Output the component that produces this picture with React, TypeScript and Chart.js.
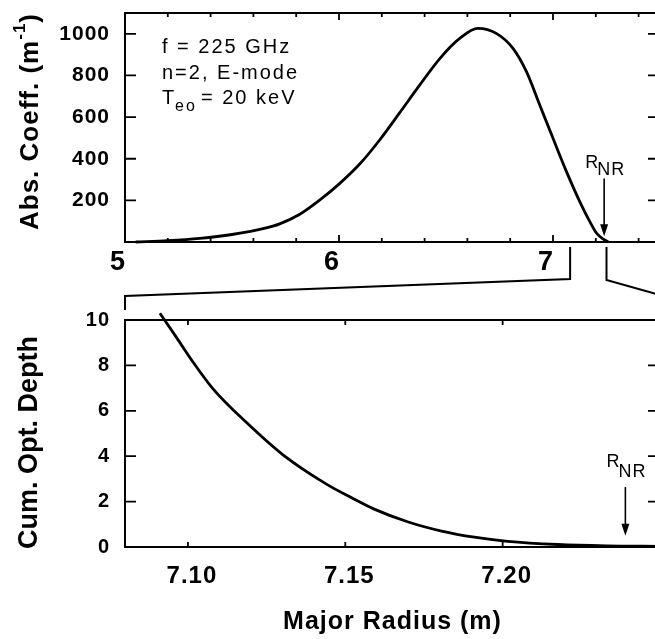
import React, { useEffect, useRef } from 'react';
import { Chart, registerables } from 'chart.js';

Chart.register(...registerables);

// ---------------- data ----------------
// Upper panel: absorption coefficient vs major radius
const ABS_RADIUS = [5.05, 5.2, 5.35, 5.5, 5.66, 5.72, 5.815, 5.908, 6.0, 6.1, 6.19, 6.283, 6.376, 6.47, 6.564, 6.649, 6.735, 6.813, 6.876, 6.938, 7.0, 7.063, 7.125, 7.172, 7.204, 7.235, 7.258];
const ABS_COEFF = [0, 6, 17, 36, 68, 86, 132, 200, 278, 378, 490, 620, 752, 880, 978, 1026, 1002, 930, 818, 658, 498, 338, 194, 98, 42, 14, 0];

// Lower panel: cumulative optical depth vs major radius (zoom)
const TAU_RADIUS = [7.0911, 7.0965, 7.1016, 7.1079, 7.1187, 7.1302, 7.144, 7.152, 7.159, 7.17, 7.1806, 7.191, 7.2016, 7.2175, 7.233, 7.25];
const TAU_DEPTH = [10.3, 9.2, 8.15, 6.98, 5.47, 4.06, 2.77, 2.17, 1.68, 1.1, 0.7, 0.43, 0.25, 0.11, 0.05, 0.03];

// axes
const TOP_X_RANGE = [5, 7.5];
const TOP_Y_RANGE = [0, 1100];
const TOP_X_TICKS = [5.0, 5.2, 5.4, 5.6, 5.8, 6.0, 6.2, 6.4, 6.6, 6.8, 7.0, 7.2, 7.4];
const TOP_X_LABELED = [5, 6, 7];
const TOP_Y_TICKS = [200, 400, 600, 800, 1000];

const LOW_X_RANGE = [7.08, 7.25];
const LOW_Y_RANGE = [0, 10];
const LOW_X_TICKS = [7.1, 7.15, 7.2];
const LOW_Y_TICKS = [0, 2, 4, 6, 8, 10];

const R_NR = 7.239;
const TOP_ARROW = [305, 28]; // from, tip (abs. coeff units)
const TOP_RNR_LABEL = [355, 322]; // baseline of "R", baseline of "NR"
const LOW_ARROW = [2.64, 0.5];
const LOW_RNR_LABEL = [3.52, 3.08];

const ANNOTATION_LINES = ['f = 225 GHz', 'n=2, E-mode'];
const TEMP_PARTS = ['T', 'eo', '= 20 keV'];

const TOP_Y_TITLE = ['Abs. Coeff. (m', '-1', ')'];
const LOW_Y_TITLE = 'Cum. Opt. Depth';
const X_TITLE = 'Major Radius (m)';

// ---------------- helpers ----------------
const FAMILY = '"Liberation Sans", Arial, sans-serif';
const fontStr = (size: number, bold = false) => `${bold ? 'bold ' : ''}${size}px ${FAMILY}`;

function isInt(v: number) {
  return Math.abs(v - Math.round(v)) < 1e-6;
}

function drawFrame(chart: any, xTicks: number[], yTicks: number[], isMajor: (v: number) => boolean, lens: { major: number; minor: number; left: number; right: number }) {
  const { ctx, chartArea: a, scales } = chart;
  const x = scales.x;
  const y = scales.y;
  ctx.save();
  ctx.strokeStyle = '#000';
  ctx.lineWidth = 2;
  ctx.strokeRect(a.left, a.top, a.right - a.left, a.bottom - a.top);
  ctx.lineWidth = 1.8;
  ctx.beginPath();
  for (const v of xTicks) {
    const px = x.getPixelForValue(v);
    const len = isMajor(v) ? lens.major : lens.minor;
    ctx.moveTo(px, a.bottom);
    ctx.lineTo(px, a.bottom - len);
    ctx.moveTo(px, a.top);
    ctx.lineTo(px, a.top + len);
  }
  for (const v of yTicks) {
    const py = y.getPixelForValue(v);
    ctx.moveTo(a.left, py);
    ctx.lineTo(a.left + lens.left, py);
    ctx.moveTo(a.right, py);
    ctx.lineTo(a.right - lens.right, py);
  }
  ctx.stroke();
  ctx.restore();
}

function drawArrowAndLabel(chart: any, xv: number, arrow: number[], label: number[]) {
  const { ctx, scales } = chart;
  const px = scales.x.getPixelForValue(xv);
  const y0 = scales.y.getPixelForValue(arrow[0]);
  const y1 = scales.y.getPixelForValue(arrow[1]);
  ctx.save();
  ctx.strokeStyle = '#000';
  ctx.fillStyle = '#000';
  ctx.lineWidth = 1.6;
  ctx.beginPath();
  ctx.moveTo(px, y0);
  ctx.lineTo(px, y1 - 8);
  ctx.stroke();
  ctx.beginPath();
  ctx.moveTo(px - 4, y1 - 12);
  ctx.lineTo(px + 4, y1 - 12);
  ctx.lineTo(px, y1);
  ctx.closePath();
  ctx.fill();
  (ctx as any).letterSpacing = '1px';
  ctx.font = fontStr(18);
  ctx.textAlign = 'left';
  ctx.textBaseline = 'alphabetic';
  ctx.fillText('R', px - 19, scales.y.getPixelForValue(label[0]));
  ctx.fillText('NR', px - 7, scales.y.getPixelForValue(label[1]));
  ctx.restore();
}

const spacingPlugin = {
  id: 'spacing',
  beforeDraw(chart: any) {
    (chart.ctx as any).letterSpacing = '1px';
  },
};

const topDecor = {
  id: 'topDecor',
  afterDraw(chart: any) {
    const { ctx, chartArea: a, scales } = chart;
    drawFrame(chart, TOP_X_TICKS, TOP_Y_TICKS, (v) => isInt(v), { major: 7, minor: 4, left: 11, right: 12 });

    // annotation text
    ctx.save();
    ctx.fillStyle = '#000';
    (ctx as any).letterSpacing = '2px';
    ctx.textAlign = 'left';
    ctx.textBaseline = 'alphabetic';
    ctx.font = fontStr(20);
    const x0 = a.left + 37;
    ctx.fillText(ANNOTATION_LINES[0], x0, a.top + 40);
    ctx.fillText(ANNOTATION_LINES[1], x0, a.top + 66);
    ctx.fillText(TEMP_PARTS[0], x0, a.top + 91);
    ctx.font = fontStr(16);
    ctx.fillText(TEMP_PARTS[1], x0 + 13, a.top + 98);
    ctx.font = fontStr(20);
    ctx.fillText(TEMP_PARTS[2], x0 + 39, a.top + 91);
    ctx.restore();

    drawArrowAndLabel(chart, R_NR, TOP_ARROW, TOP_RNR_LABEL);

    // zoom bracket connecting to lower panel
    const xl = scales.x.getPixelForValue(LOW_X_RANGE[0]);
    const xr = scales.x.getPixelForValue(LOW_X_RANGE[1]);
    ctx.save();
    ctx.strokeStyle = '#000';
    ctx.lineWidth = 2;
    ctx.lineJoin = 'miter';
    ctx.beginPath();
    ctx.moveTo(xl, a.bottom + 5);
    ctx.lineTo(xl, a.bottom + 37);
    ctx.lineTo(a.left, a.bottom + 54);
    ctx.lineTo(a.left, a.bottom + 68);
    ctx.moveTo(xr, a.bottom + 5);
    ctx.lineTo(xr, a.bottom + 38);
    ctx.lineTo(a.right, a.bottom + 53);
    ctx.lineTo(a.right, a.bottom + 68);
    ctx.stroke();
    ctx.restore();

    // y title with superscript
    ctx.save();
    ctx.fillStyle = '#000';
    ctx.translate(a.left - 87, a.bottom - 12);
    ctx.rotate(-Math.PI / 2);
    (ctx as any).letterSpacing = '1px';
    ctx.textAlign = 'left';
    ctx.textBaseline = 'alphabetic';
    ctx.font = fontStr(26, true);
    ctx.fillText(TOP_Y_TITLE[0], 0, 0);
    let w = ctx.measureText(TOP_Y_TITLE[0]).width;
    ctx.font = fontStr(17, true);
    ctx.fillText(TOP_Y_TITLE[1], w, -13);
    w += ctx.measureText(TOP_Y_TITLE[1]).width;
    ctx.font = fontStr(26, true);
    ctx.fillText(TOP_Y_TITLE[2], w, 0);
    ctx.restore();
  },
};

const lowDecor = {
  id: 'lowDecor',
  afterDraw(chart: any) {
    const { ctx, chartArea: a } = chart;
    drawFrame(chart, LOW_X_TICKS, LOW_Y_TICKS, () => true, { major: 5, minor: 5, left: 11, right: 12 });
    drawArrowAndLabel(chart, R_NR, LOW_ARROW, LOW_RNR_LABEL);

    ctx.save();
    ctx.fillStyle = '#000';
    ctx.translate(a.left - 88, (a.top + a.bottom) / 2 + 9);
    ctx.rotate(-Math.PI / 2);
    (ctx as any).letterSpacing = '0px';
    ctx.textAlign = 'center';
    ctx.textBaseline = 'alphabetic';
    ctx.font = fontStr(27, true);
    ctx.fillText(LOW_Y_TITLE, 0, 0);
    ctx.restore();
  },
};

function tickFont(size: number) {
  return { family: FAMILY, size, weight: 'bold' as const };
}

const fitY = (s: any) => {
  s.width = 125;
  s.paddingTop = 0;
  s.paddingBottom = 0;
};

function makeTop(canvas: HTMLCanvasElement) {
  return new Chart(canvas, {
    type: 'scatter',
    data: {
      datasets: [
        {
          data: ABS_RADIUS.map((r, i) => ({ x: r, y: ABS_COEFF[i] })),
          showLine: true,
          borderColor: '#000',
          borderWidth: 2.8,
          pointRadius: 0,
          cubicInterpolationMode: 'monotone',
          fill: false,
          clip: false,
        } as any,
      ],
    },
    options: {
      animation: false,
      responsive: false,
      devicePixelRatio: 1,
      events: [],
      layout: { padding: { left: 0, top: 13, right: 20, bottom: 0 } },
      plugins: { legend: { display: false }, tooltip: { enabled: false } },
      scales: {
        x: {
          type: 'linear',
          min: TOP_X_RANGE[0],
          max: TOP_X_RANGE[1],
          grid: { display: false, drawTicks: false },
          border: { display: false },
          afterBuildTicks: (s: any) => {
            s.ticks = TOP_X_TICKS.map((v) => ({ value: v }));
          },
          afterFit: (s: any) => {
            s.height = 78;
            s.paddingLeft = 0;
            s.paddingRight = 0;
          },
          ticks: {
            autoSkip: false,
            maxRotation: 0,
            padding: 4,
            labelOffset: -7,
            color: '#000',
            font: tickFont(27),
            callback: (v: any) => {
              const n = Number(v);
              return isInt(n) && TOP_X_LABELED.includes(Math.round(n)) ? String(Math.round(n)) : '';
            },
          },
        },
        y: {
          type: 'linear',
          min: TOP_Y_RANGE[0],
          max: TOP_Y_RANGE[1],
          grid: { display: false, drawTicks: false },
          border: { display: false },
          afterBuildTicks: (s: any) => {
            s.ticks = TOP_Y_TICKS.map((v) => ({ value: v }));
          },
          afterFit: fitY,
          ticks: {
            autoSkip: false,
            padding: 15,
            color: '#000',
            font: tickFont(21),
            callback: (v: any) => String(v),
          },
        },
      },
    } as any,
    plugins: [spacingPlugin, topDecor],
  });
}

function makeLow(canvas: HTMLCanvasElement) {
  return new Chart(canvas, {
    type: 'scatter',
    data: {
      datasets: [
        {
          data: TAU_RADIUS.map((r, i) => ({ x: r, y: TAU_DEPTH[i] })),
          showLine: true,
          borderColor: '#000',
          borderWidth: 2.8,
          pointRadius: 0,
          cubicInterpolationMode: 'monotone',
          fill: false,
          clip: false,
        } as any,
      ],
    },
    options: {
      animation: false,
      responsive: false,
      devicePixelRatio: 1,
      events: [],
      layout: { padding: { left: 0, top: 20, right: 20, bottom: 0 } },
      plugins: { legend: { display: false }, tooltip: { enabled: false } },
      scales: {
        x: {
          type: 'linear',
          min: LOW_X_RANGE[0],
          max: LOW_X_RANGE[1],
          grid: { display: false, drawTicks: false },
          border: { display: false },
          afterBuildTicks: (s: any) => {
            s.ticks = LOW_X_TICKS.map((v) => ({ value: v }));
          },
          afterFit: (s: any) => {
            s.height = 92;
            s.paddingLeft = 0;
            s.paddingRight = 0;
          },
          title: {
            display: true,
            text: X_TITLE,
            color: '#000',
            font: { family: FAMILY, size: 25, weight: 'bold' },
            padding: { top: 0, bottom: 2 },
          },
          ticks: {
            autoSkip: false,
            maxRotation: 0,
            padding: 15,
            labelOffset: 4,
            color: '#000',
            font: tickFont(24),
            callback: (v: any) => Number(v).toFixed(2),
          },
        },
        y: {
          type: 'linear',
          min: LOW_Y_RANGE[0],
          max: LOW_Y_RANGE[1],
          grid: { display: false, drawTicks: false },
          border: { display: false },
          afterBuildTicks: (s: any) => {
            s.ticks = LOW_Y_TICKS.map((v) => ({ value: v }));
          },
          afterFit: fitY,
          ticks: {
            autoSkip: false,
            padding: 15,
            color: '#000',
            font: tickFont(20),
            callback: (v: any) => String(v),
          },
        },
      },
    } as any,
    plugins: [spacingPlugin, lowDecor],
  });
}

export default function App() {
  const topRef = useRef<HTMLCanvasElement>(null);
  const lowRef = useRef<HTMLCanvasElement>(null);

  useEffect(() => {
    const top = makeTop(topRef.current as HTMLCanvasElement);
    const low = makeLow(lowRef.current as HTMLCanvasElement);
    return () => {
      top.destroy();
      low.destroy();
    };
  }, []);

  return (
    <div style={{ position: 'absolute', left: 0, top: 0, width: 655, height: 639, overflow: 'hidden', background: '#fff' }}>
      <canvas ref={topRef} width={680} height={320} style={{ position: 'absolute', left: 0, top: 0 }} />
      <canvas ref={lowRef} width={680} height={339} style={{ position: 'absolute', left: 0, top: 300 }} />
    </div>
  );
}
